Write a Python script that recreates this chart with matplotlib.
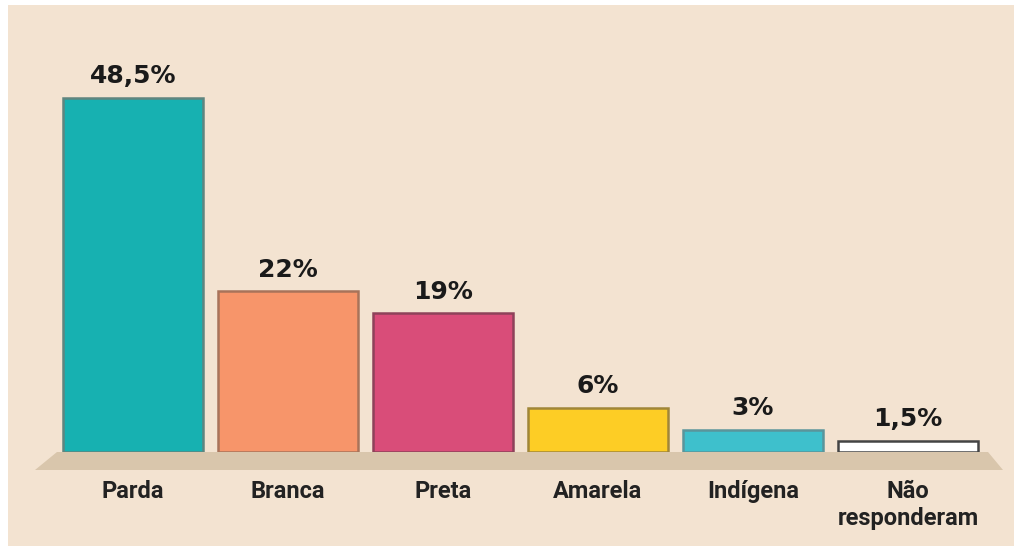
import matplotlib
matplotlib.use("Agg")
import matplotlib.pyplot as plt
from matplotlib.patches import Polygon, Rectangle

# data
categories = ["Parda", "Branca", "Preta", "Amarela", "Indígena", "Não\nresponderam"]
values = [48.5, 22, 19, 6, 3, 1.5]
value_labels = ["48,5%", "22%", "19%", "6%", "3%", "1,5%"]

bar_colors = ["#17b1b1", "#f7956a", "#d94d79", "#fdcd25", "#3ec0cc", "#ffffff"]
edge_colors = ["#5f857f", "#a8735a", "#8e425a", "#a08638", "#5a959b", "#444444"]

W, H = 1014, 546
fig = plt.figure(figsize=(W / 100, H / 100), dpi=100)
fig.patch.set_facecolor("white")

# beige panel
fig.patches.append(Rectangle((8 / W, 0), 1 - 8 / W, 1 - 5 / H,
                             transform=fig.transFigure, facecolor="#f3e3d1",
                             edgecolor="none", zorder=0))

# floor under the bars
floor = [(57, 452), (988, 452), (1003, 470), (35, 470)]
fig.patches.append(Polygon([(x / W, 1 - y / H) for x, y in floor], closed=True,
                           transform=fig.transFigure, facecolor="#d9c6ac",
                           edgecolor="none", zorder=1))

# axes: bar centre spacing 155px, bar width 140px, baseline at y=452
ax = fig.add_axes([55.5 / W, 1 - 452 / H, 930 / W, 401.5 / H])
ax.patch.set_alpha(0)
ax.set_zorder(2)

x = range(len(categories))
bars = ax.bar(x, values, width=140 / 155, color=bar_colors,
              edgecolor=edge_colors, linewidth=1.8)

for b, lab in zip(bars, value_labels):
    ax.annotate(lab, (b.get_x() + b.get_width() / 2, b.get_height()),
                xytext=(0, 7), textcoords="offset points",
                ha="center", va="bottom", fontsize=18, fontweight="bold",
                family="DejaVu Sans", color="#1a1a1a")

ax.set_xlim(-0.5, len(categories) - 0.5)
ax.set_ylim(0, 55)
ax.set_xticks(list(x))
ax.set_xticklabels(categories, fontsize=17, fontweight="bold",
                   family="Roboto", color="#222222", linespacing=1.25, va="top")
ax.tick_params(axis="x", length=0, pad=20)
ax.set_yticks([])
for s in ax.spines.values():
    s.set_visible(False)

fig.savefig("out.png", dpi=100)
